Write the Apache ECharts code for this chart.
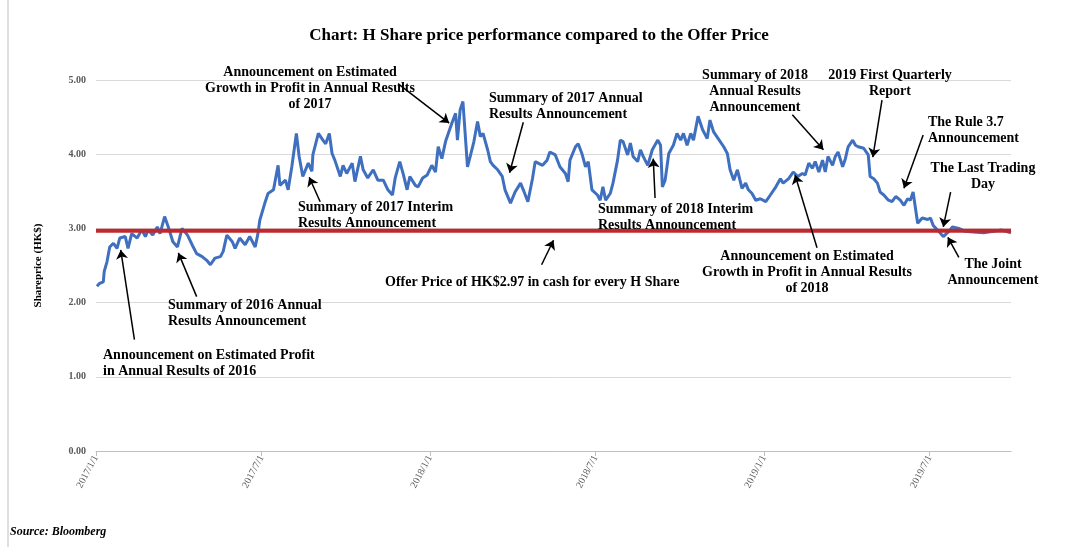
<!DOCTYPE html>
<html>
<head>
<meta charset="utf-8">
<script src="https://cdn.jsdelivr.net/npm/echarts@6/dist/echarts.min.js"></script>
<style>
  html, body { margin: 0; padding: 0; background: #fff; }
  #chart { width: 1078px; height: 547px; }
</style>
</head>
<body>
<div id="chart"></div>
<script>
// H share closing prices (HK$)
var dates = [
  '2017-01-02','2017-01-05','2017-01-09','2017-01-10','2017-01-13','2017-01-16','2017-01-20','2017-01-24','2017-01-27','2017-02-02',
  '2017-02-05','2017-02-09','2017-02-15','2017-02-20','2017-02-24','2017-02-27','2017-03-04','2017-03-09','2017-03-12','2017-03-17',
  '2017-03-21','2017-03-26','2017-03-31','2017-04-05','2017-04-11','2017-04-16','2017-04-21','2017-04-27','2017-05-02','2017-05-06',
  '2017-05-11','2017-05-17','2017-05-20','2017-05-24','2017-05-30','2017-06-02','2017-06-07','2017-06-13','2017-06-18','2017-06-24',
  '2017-06-27','2017-06-29','2017-07-05','2017-07-08','2017-07-14','2017-07-19','2017-07-21','2017-07-27','2017-07-30','2017-08-03',
  '2017-08-08','2017-08-11','2017-08-15','2017-08-21','2017-08-25','2017-08-26','2017-09-01','2017-09-06','2017-09-09','2017-09-13',
  '2017-09-16','2017-09-19','2017-09-25','2017-09-28','2017-10-02','2017-10-08','2017-10-11','2017-10-17','2017-10-20','2017-10-25',
  '2017-10-31','2017-11-05','2017-11-11','2017-11-16','2017-11-21','2017-11-24','2017-11-29','2017-12-03','2017-12-07','2017-12-10',
  '2017-12-16','2017-12-19','2017-12-24','2017-12-29','2018-01-03','2018-01-07','2018-01-10','2018-01-14','2018-01-18','2018-01-21',
  '2018-01-25','2018-01-29','2018-01-31','2018-02-03','2018-02-06','2018-02-11','2018-02-14','2018-02-18','2018-02-22','2018-02-25',
  '2018-02-28','2018-03-05','2018-03-08','2018-03-11','2018-03-16','2018-03-21','2018-03-24','2018-03-30','2018-04-04','2018-04-10',
  '2018-04-13','2018-04-18','2018-04-23','2018-04-26','2018-05-04','2018-05-09','2018-05-12','2018-05-18','2018-05-23','2018-05-29',
  '2018-06-01','2018-06-03','2018-06-09','2018-06-12','2018-06-16','2018-06-20','2018-06-23','2018-06-27','2018-07-03','2018-07-06',
  '2018-07-09','2018-07-12','2018-07-17','2018-07-20','2018-07-25','2018-07-28','2018-07-31','2018-08-05','2018-08-08','2018-08-11',
  '2018-08-16','2018-08-19','2018-08-22','2018-08-27','2018-09-01','2018-09-07','2018-09-10','2018-09-12','2018-09-15','2018-09-19',
  '2018-09-24','2018-09-28','2018-10-02','2018-10-05','2018-10-09','2018-10-13','2018-10-16','2018-10-21','2018-10-26','2018-10-31',
  '2018-11-03','2018-11-07','2018-11-12','2018-11-18','2018-11-22','2018-11-25','2018-11-29','2018-12-03','2018-12-08','2018-12-12',
  '2018-12-15','2018-12-19','2018-12-23','2018-12-28','2019-01-03','2019-01-08','2019-01-14','2019-01-19','2019-01-22','2019-01-28',
  '2019-02-02','2019-02-07','2019-02-12','2019-02-15','2019-02-19','2019-02-23','2019-02-26','2019-03-02','2019-03-06','2019-03-09',
  '2019-03-12','2019-03-17','2019-03-20','2019-03-23','2019-03-28','2019-03-31','2019-04-03','2019-04-08','2019-04-11','2019-04-14',
  '2019-04-20','2019-04-25','2019-04-27','2019-05-01','2019-05-05','2019-05-08','2019-05-12','2019-05-17','2019-05-21','2019-05-25',
  '2019-05-30','2019-06-03','2019-06-07','2019-06-10','2019-06-13','2019-06-18','2019-06-23','2019-06-29','2019-07-02','2019-07-05',
  '2019-07-11','2019-07-16','2019-07-22','2019-07-26','2019-08-02','2019-08-09','2019-08-18','2019-08-29','2019-09-09','2019-09-17',
  '2019-09-28'
];
var prices = [
  2.22,2.26,2.28,2.42,2.55,2.75,2.80,2.73,2.87,2.89,
  2.73,2.93,2.87,2.98,2.89,2.98,2.91,3.02,2.93,3.16,
  3.02,2.82,2.75,3.00,2.91,2.78,2.66,2.62,2.57,2.51,
  2.60,2.62,2.69,2.91,2.82,2.73,2.87,2.78,2.89,2.75,
  2.93,3.11,3.36,3.47,3.52,3.85,3.58,3.65,3.52,3.83,
  4.28,3.97,3.70,3.88,3.77,3.99,4.28,4.19,4.14,4.28,
  4.01,3.92,3.70,3.85,3.74,3.88,3.63,3.97,3.79,3.68,
  3.79,3.65,3.65,3.52,3.45,3.68,3.90,3.72,3.52,3.70,
  3.58,3.56,3.68,3.72,3.85,3.76,4.10,3.94,4.17,4.28,
  4.42,4.55,4.19,4.60,4.71,3.83,3.97,4.17,4.44,4.24,
  4.28,4.06,3.90,3.85,3.79,3.70,3.52,3.34,3.49,3.61,
  3.52,3.36,3.67,3.90,3.85,3.92,4.03,3.99,3.83,3.74,
  3.63,3.92,4.10,4.14,4.01,3.83,3.90,3.52,3.45,3.38,
  3.56,3.38,3.47,3.61,3.92,4.19,4.17,3.99,4.15,3.97,
  3.90,4.06,3.97,3.85,4.06,4.19,4.12,3.56,3.65,4.01,
  4.12,4.28,4.19,4.28,4.12,4.28,4.19,4.51,4.33,4.21,
  4.46,4.30,4.21,4.10,4.01,3.79,3.65,3.79,3.54,3.61,
  3.52,3.47,3.38,3.40,3.36,3.45,3.56,3.67,3.61,3.67,
  3.76,3.70,3.74,3.72,3.88,3.81,3.90,3.76,3.92,3.76,
  3.97,3.85,3.97,4.03,3.83,3.94,4.10,4.19,4.12,4.10,
  4.08,3.99,3.70,3.67,3.61,3.49,3.45,3.38,3.36,3.43,
  3.38,3.31,3.40,3.38,3.49,3.07,3.14,3.12,3.14,3.04,
  2.96,2.89,2.96,3.02,3.00,2.96,2.95,2.94,2.96,2.98,
  2.94
];
var offerPrice = 2.97;
var tickDates = ['2017-01-01', '2017-07-01', '2018-01-01', '2018-07-01', '2019-01-01', '2019-07-01'];
var axisStart = '2017-01-01';
var axisEnd = '2019-09-28';

// arrows: [from, to] as [date, price]
var arrows = [
  [['2017-02-12', 1.50], ['2017-01-28', 2.71]],
  [['2017-04-21', 2.08], ['2017-04-01', 2.67]],
  [['2017-11-27', 4.95], ['2018-01-22', 4.42]],
  [['2017-09-03', 3.36], ['2017-08-22', 3.69]],
  [['2018-04-13', 4.43], ['2018-03-29', 3.75]],
  [['2018-05-03', 2.51], ['2018-05-16', 2.84]],
  [['2018-09-04', 3.41], ['2018-09-02', 3.94]],
  [['2019-02-01', 4.53], ['2019-03-07', 4.06]],
  [['2019-05-10', 4.73], ['2019-04-30', 3.96]],
  [['2019-06-24', 4.26], ['2019-06-03', 3.54]],
  [['2019-07-24', 3.49], ['2019-07-16', 3.02]],
  [['2019-08-02', 2.61], ['2019-07-21', 2.88]],
  [['2019-02-28', 2.74], ['2019-02-04', 3.72]]
];

// annotation texts: [text, x, y, align]
var notes = [
  ['Announcement on Estimated Profit\nin Annual Results of 2016', 103, 347, 'left'],
  ['Summary of 2016 Annual\nResults Announcement', 168, 297, 'left'],
  ['Announcement on Estimated\nGrowth in Profit in Annual Results\nof 2017', 310, 64, 'center'],
  ['Summary of 2017 Interim\nResults Announcement', 298, 199, 'left'],
  ['Summary of 2017 Annual\nResults Announcement', 489, 90, 'left'],
  ['Offer Price of HK$2.97 in cash for every H Share', 385, 274, 'left'],
  ['Summary of 2018 Interim\nResults Announcement', 598, 201, 'left'],
  ['Summary of 2018\nAnnual Results\nAnnouncement', 755, 67, 'center'],
  ['2019 First Quarterly\nReport', 890, 67, 'center'],
  ['The Rule 3.7\nAnnouncement', 928, 114, 'left'],
  ['The Last Trading\nDay', 983, 160, 'center'],
  ['The Joint\nAnnouncement', 993, 256, 'center'],
  ['Announcement on Estimated\nGrowth in Profit in Annual Results\nof 2018', 807, 248, 'center']
];

var serif = '"Liberation Serif", "Times New Roman", serif';

function toTime(s) {
  var p = s.split('-');
  return new Date(+p[0], +p[1] - 1, +p[2]).getTime();
}

var series = dates.map(function (d, i) { return [toTime(d), prices[i]]; });
var ticks = tickDates.map(toTime);

var chart = echarts.init(document.getElementById('chart'));

var option = {
  animation: false,
  backgroundColor: '#fff',
  title: {
    text: 'Chart: H Share price performance compared to the Offer Price',
    left: 'center',
    top: 22,
    textStyle: { fontFamily: serif, fontWeight: 'bold', fontSize: 17, color: '#000' }
  },
  grid: { left: 96, right: 67, top: 80, bottom: 96 },
  xAxis: {
    type: 'value',
    min: toTime(axisStart),
    max: toTime(axisEnd),
    axisLine: { lineStyle: { color: '#bfbfbf' } },
    axisTick: { show: true, customValues: ticks, length: 5, lineStyle: { color: '#bfbfbf' } },
    axisLabel: {
      customValues: ticks,
      rotate: 62,
      fontFamily: serif,
      fontSize: 10,
      color: '#595959',
      margin: 5,
      formatter: function (v) {
        var d = new Date(v);
        return d.getFullYear() + '/' + (d.getMonth() + 1) + '/' + d.getDate();
      }
    },
    splitLine: { show: false }
  },
  yAxis: {
    type: 'value',
    min: 0,
    max: 5,
    interval: 1,
    name: 'Shareprice (HK$)',
    nameLocation: 'middle',
    nameGap: 52,
    nameTextStyle: { fontFamily: serif, fontWeight: 'bold', fontSize: 11, color: '#000' },
    axisLine: { show: false },
    axisTick: { show: false },
    axisLabel: {
      fontFamily: serif,
      fontWeight: 'bold',
      fontSize: 10,
      color: '#595959',
      margin: 10,
      formatter: function (v) { return v.toFixed(2); }
    },
    splitLine: { lineStyle: { color: '#d9d9d9', width: 1 } }
  },
  series: [
    {
      name: 'H Share',
      type: 'line',
      data: series,
      showSymbol: false,
      lineStyle: { color: '#3f6fbf', width: 3 },
      z: 3,
      markLine: {
        silent: true,
        symbol: ['none', 'arrow'],
        symbolSize: 9,
        label: { show: false },
        lineStyle: { color: '#000', width: 1.5, type: 'solid' },
        data: arrows.map(function (a) {
          return [{ coord: [toTime(a[0][0]), a[0][1]] }, { coord: [toTime(a[1][0]), a[1][1]] }];
        })
      }
    },
    {
      name: 'Offer Price',
      type: 'line',
      data: [[toTime(axisStart), offerPrice], [toTime(axisEnd), offerPrice]],
      showSymbol: false,
      lineStyle: { color: '#c0282e', width: 4 },
      z: 4
    }
  ],
  graphic: notes.map(function (n) {
    return {
      type: 'text',
      x: n[1],
      y: n[2],
      style: {
        text: n[0],
        textAlign: n[3],
        fontFamily: serif,
        fontWeight: 'bold',
        fontSize: 14,
        lineHeight: 16,
        fill: '#000'
      },
      z: 10
    };
  }).concat([
    {
      type: 'text',
      x: 10,
      y: 526,
      style: { text: 'Source: Bloomberg', fontFamily: serif, fontWeight: 'bold', fontStyle: 'italic', fontSize: 12, fill: '#000' }
    },
    {
      type: 'line',
      shape: { x1: 8, y1: 0, x2: 8, y2: 547 },
      style: { stroke: '#bfbfbf', lineWidth: 1 }
    }
  ])
};

chart.setOption(option);
</script>
</body>
</html>
